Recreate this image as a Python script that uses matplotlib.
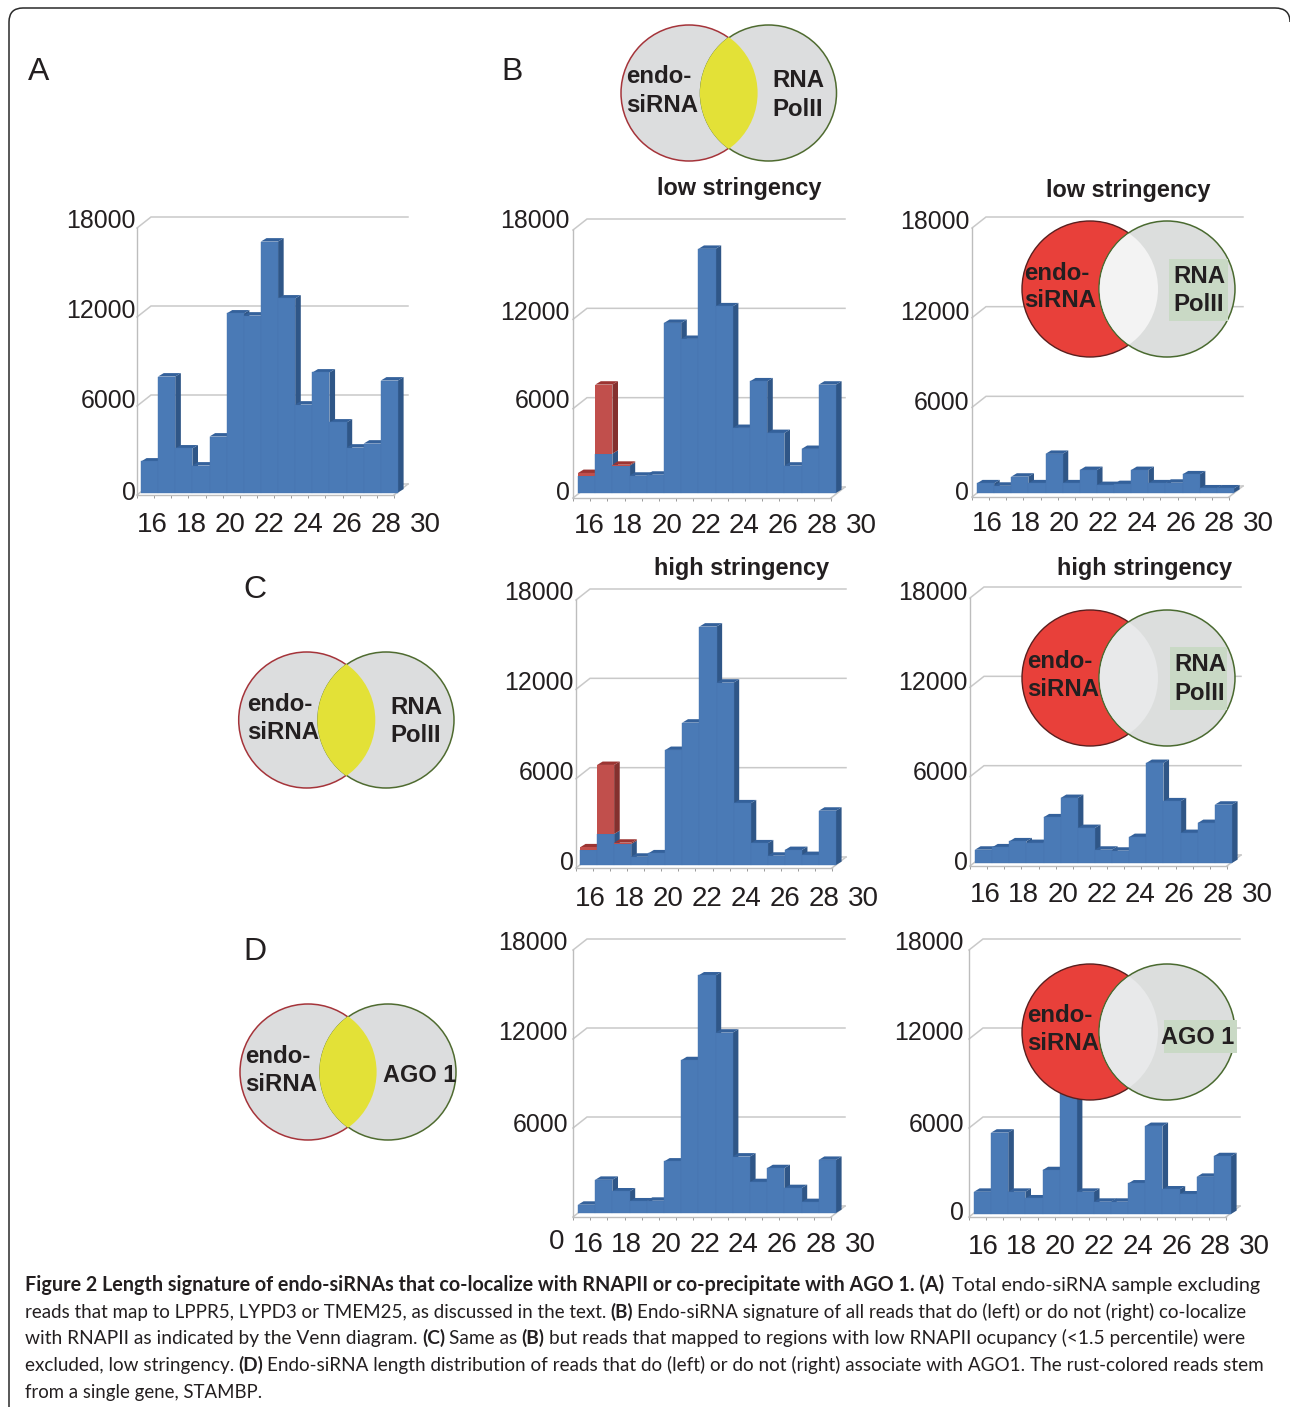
import matplotlib
matplotlib.use("Agg")
import matplotlib.pyplot as plt
from matplotlib.patches import Circle, Rectangle, PathPatch
from matplotlib.path import Path
from matplotlib.transforms import ScaledTranslation

plt.rcParams['font.family'] = ['Liberation Sans', 'DejaVu Sans']

W, H = 1290, 1407
DPI = 100

# ---------- data ----------
x_labels = [16, 18, 20, 22, 24, 26, 28, 30]
y_values = [0, 6000, 12000, 18000]

a_blue = [2090, 7820, 2970, 1820, 3775, 12070, 11930, 16920, 13080, 5930, 8090, 4720, 3030, 3300, 7550]
bl_blue = [1165, 2640, 1837, 1165, 1232, 11424, 10350, 16400, 12540, 4370, 7500, 4030, 1840, 2960, 7280]
bl_red = [180, 4640, 63, 0, 0, 0, 0, 0, 0, 0, 0, 0, 0, 0, 0]
br_blue = [630, 470, 1075, 630, 2600, 630, 1520, 515, 580, 1520, 630, 670, 1230, 290, 290]
cl_blue = [1008, 2083, 1411, 560, 784, 7728, 9565, 16016, 12250, 4144, 1456, 627, 1008, 672, 3650]
cl_red = [180, 4637, 90, 0, 0, 0, 0, 0, 0, 0, 0, 0, 0, 0, 0]
cr_blue = [896, 1053, 1456, 1344, 3069, 4368, 2352, 896, 829, 1747, 6720, 4144, 2016, 2688, 3920]
dl_blue = [560, 2240, 1456, 784, 829, 3472, 10304, 16016, 12163, 3808, 2083, 3024, 1680, 739, 3584]
dr_blue = [1500, 5488, 1500, 1053, 2957, 9000, 1500, 829, 829, 2060, 5936, 1658, 1322, 2509, 3900]

caption = [
    [("Figure 2 Length signature of endo-siRNAs that co-localize with RNAPII or co-precipitate with AGO 1. (A)", True),
     ("Total endo-siRNA sample excluding", False)],
    [("reads that map to LPPR5, LYPD3 or TMEM25, as discussed in the text.", False), ("(B)", True),
     ("Endo-siRNA signature of all reads that do (left) or do not (right) co-localize", False)],
    [("with RNAPII as indicated by the Venn diagram.", False), ("(C)", True), ("Same as", False), ("(B)", True),
     ("but reads that mapped to regions with low RNAPII ocupancy (<1.5 percentile) were", False)],
    [("excluded, low stringency.", False), ("(D)", True),
     ("Endo-siRNA length distribution of reads that do (left) or do not (right) associate with AGO1. The rust-colored reads stem", False)],
    [("from a single gene, STAMBP.", False)],
]

# ---------- style ----------
BLUE, BLUE_SIDE, BLUE_TOP = '#4a7ab6', '#2f5687', '#34619b'
RED, RED_SIDE, RED_TOP = '#c14f4c', '#84302e', '#9c3432'
GRID = '#c9c9c9'
INK = '#231f20'
NBARS = 15
XMAX = 18  # room past the last bar for the shifted tick labels

fig = plt.figure(figsize=(W / DPI, H / DPI), dpi=DPI, facecolor='white')


def panel(blue, red, x0, y0, ytop, right, bar_x, bar_y, xlab, xlab_y, ylab_right, ylab_ys, show_zero=True):
    unit = (right - x0) / NBARS
    ax = fig.add_axes([x0 / W, 1 - y0 / H, unit * XMAX / W, (y0 - ytop) / H], facecolor='none', zorder=2)
    sx = 1 / unit
    sy = 18000 / (y0 - ytop)
    for s in ('top', 'right'):
        ax.spines[s].set_visible(False)
    for s in ('left', 'bottom'):
        ax.spines[s].set_color('#bdbdbd')
        ax.spines[s].set_linewidth(1.0)
    ax.spines['bottom'].set_bounds(0, NBARS)

    # back wall / gridlines
    bx, by = 14 * sx, 11 * sy
    for v in y_values:
        ax.plot([0, bx, NBARS + bx], [v, v + by, v + by], color=GRID, lw=1.1, clip_on=False, zorder=1,
                solid_joinstyle='miter')
    ax.plot([NBARS, NBARS + bx], [0, by], color=GRID, lw=1.1, clip_on=False, zorder=1)

    # bars
    ox, oy = (bar_x - x0) * sx, (y0 - bar_y) * sy
    dx, dy = 5.6 * sx, 3.4 * sy
    for i, b in enumerate(blue):
        r = red[i] if red else 0
        z = 3 + 2 * i
        xl, xr = i + ox, i + 1 + ox
        total = b + r
        ax.fill([xr, xr + dx, xr + dx, xr], [oy, oy + dy, oy + dy + b, oy + b], color=BLUE_SIDE, lw=0,
                clip_on=False, zorder=z)
        if r:
            ax.fill([xr, xr + dx, xr + dx, xr], [oy + b, oy + b + dy, oy + total + dy, oy + total],
                    color=RED_SIDE, lw=0, clip_on=False, zorder=z)
        ax.fill([xl, xl + dx, xr + dx, xr], [oy + total, oy + total + dy, oy + total + dy, oy + total],
                color=RED_TOP if r else BLUE_TOP, lw=0, clip_on=False, zorder=z)
        ax.bar([xl], [b], width=1, bottom=oy, align='edge', color=BLUE, edgecolor='#4675b0', linewidth=0.3,
               clip_on=False, zorder=z + 1)
        if r:
            ax.bar([xl], [r], width=1, bottom=oy + b, align='edge', color=RED, linewidth=0,
                   clip_on=False, zorder=z + 1)

    # ticks
    ax.set_xticks(range(NBARS + 1), minor=True)
    ax.set_xticks([(p - x0) * sx for p in xlab])
    ax.set_xticklabels(x_labels)
    ax.tick_params(axis='x', which='minor', length=2.5, width=0.7, color='#9a9a9a', direction='out')
    ax.tick_params(axis='x', which='major', length=0, pad=11.8, labelsize=20, labelcolor=INK)
    ax.set_yticks(y_values)
    ax.set_yticklabels([str(v) if (v or show_zero) else '' for v in y_values])
    ax.tick_params(axis='y', which='major', length=0, pad=(x0 - ylab_right) * 0.72, labelsize=17.9, labelcolor=INK)
    ax.set_xlim(0, XMAX)
    ax.set_ylim(0, 18000)
    for tick, v, ly in zip(ax.yaxis.get_major_ticks(), y_values, ylab_ys):
        ypix = y0 - v / sy
        tick.label1.set_transform(tick.label1.get_transform() +
                                  ScaledTranslation(0, (ypix - ly) / DPI, fig.dpi_scale_trans))
    for tick in ax.xaxis.get_major_ticks():
        tick.label1.set_transform(tick.label1.get_transform() +
                                  ScaledTranslation(0, (y0 + 26 - xlab_y) / DPI, fig.dpi_scale_trans))
    return ax


def xs(first, last):
    return [first + (last - first) * k / 7 for k in range(8)]


panel(a_blue, None, 137, 495, 228, 394, 141, 492.5, xs(152, 425), 522, 136, [490, 399, 308, 219])
panel(bl_blue, bl_red, 573, 498, 230, 831, 578, 493, xs(589, 861), 523, 570, [490, 399, 310, 219])
panel(br_blue, None, 972, 497, 228, 1229, 977, 492.7, xs(987, 1258), 521, 969, [490, 400, 310, 219])
panel(cl_blue, cl_red, 576, 868, 600, 832, 580, 865, xs(590, 863), 896, 574, [861, 770, 681, 590])
panel(cr_blue, None, 970, 866, 598, 1227, 975, 863, xs(985, 1257), 892, 968, [861, 771, 680, 590])
panel(dl_blue, None, 573, 1217, 950, 831, 578, 1213, xs(588, 860), 1242, 568, [1212, 1122, 1031, 941],
      show_zero=False)
panel(dr_blue, None, 969, 1217, 950, 1226, 974, 1214, xs(983, 1254), 1244, 964, [1210, 1122, 1031, 941])

# ---------- overlay in pixel coordinates ----------
ov = fig.add_axes([0, 0, 1, 1], facecolor='none', zorder=5)
ov.set_xlim(0, W)
ov.set_ylim(H, 0)
ov.axis('off')

frame = Path([(9, H), (9, 22), (9, 8), (23, 8), (1275, 8), (1290, 8), (1290, 22)],
             [Path.MOVETO, Path.LINETO, Path.CURVE3, Path.CURVE3, Path.LINETO, Path.CURVE3, Path.CURVE3])
ov.add_patch(PathPatch(frame, fc='none', ec='#2a2a2a', lw=1.1))

ov.text(557, 1242, '0', fontsize=20, color=INK, ha='center', va='center')

for letter, x, y in [('A', 39, 70), ('B', 512, 70), ('C', 255, 587), ('D', 255, 949)]:
    ov.text(x, y + 2.5, letter, fontsize=23, color=INK, ha='center', va='center')

for t, x, y in [('low stringency', 739, 188), ('low stringency', 1128, 189),
                ('high stringency', 742, 568), ('high stringency', 1145, 568)]:
    ov.text(x, y + 1, t, fontsize=16.9, fontweight='bold', color=INK, ha='center', va='center')


def venn_text(lines):
    for s, x, y in lines:
        ov.text(x, y + 1.5, s, fontsize=16.9 if s.startswith('AGO') else 17.3, fontweight='bold', color=INK,
                ha='left', va='center', zorder=6)


def overlap_venn(cl, cr, cy, left_lines, right_lines):
    ov.add_patch(Circle((cl, cy), 68, fc='#dcddde', ec='#a5343a', lw=1.1, zorder=2))
    ov.add_patch(Circle((cr, cy), 68, fc='#dcddde', ec='#4f6b30', lw=1.1, zorder=3))
    # right edge of the left circle stays hidden below the yellow lens
    lens = Circle((cl, cy), 68.6, fc='#e3e137', ec='none', zorder=4)
    ov.add_patch(lens)
    lens.set_clip_path(Circle((cr, cy), 68.6, transform=ov.transData))
    venn_text(left_lines + right_lines)


def exclusion_venn(cl, cr, cy, lens_color, box, left_lines, right_lines):
    ov.add_patch(Circle((cl, cy), 68, fc='#e8403a', ec='#5a1f1e', lw=1.0, zorder=2))
    ov.add_patch(Circle((cr, cy), 68, fc='#dcdedd', ec='#4a6a30', lw=1.1, zorder=3))
    lens = Circle((cl, cy), 68, fc=lens_color, ec='none', zorder=4)
    ov.add_patch(lens)
    lens.set_clip_path(Circle((cr, cy), 67.3, transform=ov.transData))
    ov.add_patch(Rectangle((box[0], box[1]), box[2] - box[0], box[3] - box[1], fc='#c9d9c5', ec='none', zorder=5))
    venn_text(left_lines + right_lines)


overlap_venn(689, 768.5, 93, [('endo-', 626, 75), ('siRNA', 626, 104)], [('RNA', 772, 79), ('PolII', 772, 108)])
overlap_venn(306.7, 386, 720, [('endo-', 247, 703), ('siRNA', 247, 731)], [('RNA', 390, 706), ('PolII', 390, 734)])
overlap_venn(308, 388, 1072, [('endo-', 245, 1055), ('siRNA', 245, 1083)], [('AGO 1', 383, 1074)])

exclusion_venn(1090, 1167, 289, '#f3f3f3', (1169, 259, 1228, 321),
               [('endo-', 1024, 272), ('siRNA', 1024, 299)], [('RNA', 1173, 275), ('PolII', 1173, 303)])
exclusion_venn(1090, 1167, 678, '#e8e9ea', (1170, 647, 1227, 710),
               [('endo-', 1027, 660), ('siRNA', 1027, 688)], [('RNA', 1174, 663), ('PolII', 1174, 692)])
exclusion_venn(1090, 1167, 1032, '#e8e9ea', (1164, 1020, 1237, 1053),
               [('endo-', 1027, 1014), ('siRNA', 1027, 1042)], [('AGO 1', 1161, 1036)])

# ---------- caption: each line fitted to its measured width ----------
renderer = fig.canvas.get_renderer()
line_ends = [1261, 1248, 1248, 1266, 262]
baselines = [1291, 1318, 1344, 1371, 1398]
BASE = 14.0
for segs, end, base in zip(caption, line_ends, baselines):
    widths = []
    for s, bold in segs:
        t = ov.text(0, 0, s, fontsize=BASE, family='Lato', fontweight='bold' if bold else 'normal')
        widths.append(t.get_window_extent(renderer).width)
        t.remove()
    gap = 0.2 * BASE * DPI / 72
    total = sum(widths) + gap * (len(segs) - 1)
    f = (end - 25) / total
    x = 25.0
    for (s, bold), w in zip(segs, widths):
        ov.text(x, base, s, fontsize=BASE * f, family='Lato', fontweight='bold' if bold else 'normal',
                color='#231f20', ha='left', va='baseline')
        x += (w + gap) * f

fig.savefig('out.png', dpi=DPI, facecolor='white')
